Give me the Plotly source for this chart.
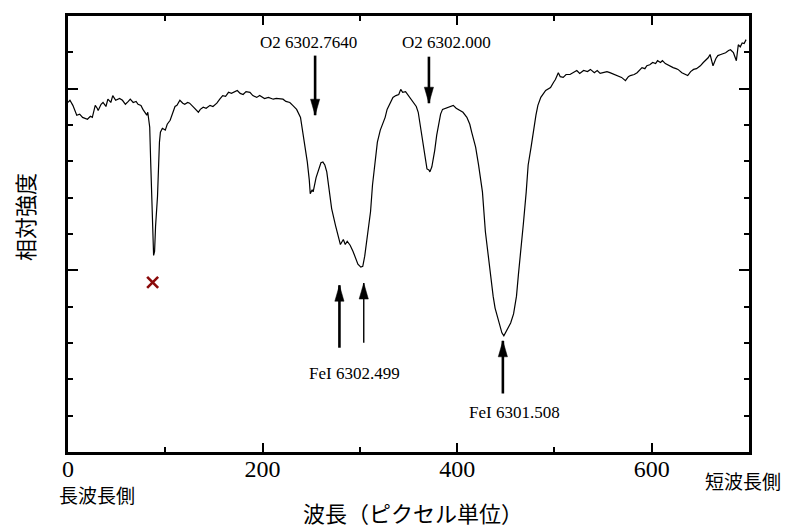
import plotly.graph_objects as go

# ---- spectrum (wavelength in pixel units, relative intensity) ----
pixel = [0, 2, 5, 7, 9, 12, 15, 20, 23, 25, 28, 30, 31, 34, 36, 39, 41, 44, 46, 49,
         51, 53, 56, 59, 62, 64, 67, 70, 72, 75, 77, 80, 81, 82, 84, 85, 86, 87, 88, 89,
         90, 92, 93, 94, 95, 97, 100, 102, 105, 108, 110, 112, 115, 118, 120, 123, 125, 129, 131, 134,
         136, 139, 142, 146, 149, 153, 156, 159, 162, 165, 168, 171, 174, 177, 180, 183, 187, 190, 194, 197,
         202, 206, 211, 214, 218, 221, 224, 228, 231, 235, 239, 242, 244, 246, 248, 249, 251, 252, 255, 257,
         260, 262, 264, 266, 269, 271, 275, 277, 280, 283, 285, 287, 290, 293, 296, 298, 301, 303, 305, 307,
         311, 313, 316, 318, 321, 323, 326, 328, 331, 334, 337, 340, 342, 344, 347, 349, 352, 355, 358, 360,
         362, 365, 367, 369, 371, 372, 374, 375, 377, 379, 383, 385, 388, 390, 393, 396, 399, 403, 406, 410,
         413, 415, 419, 422, 424, 426, 429, 432, 434, 437, 439, 442, 444, 446, 448, 450, 452, 455, 458, 461,
         463, 466, 468, 471, 473, 476, 478, 481, 483, 486, 491, 494, 496, 499, 501, 504, 506, 509, 512, 516,
         519, 523, 526, 530, 534, 537, 541, 544, 547, 550, 554, 557, 561, 565, 569, 573, 576, 578, 582, 585,
         588, 590, 593, 595, 598, 601, 604, 606, 609, 611, 614, 616, 619, 622, 625, 627, 631, 634, 637, 640,
         643, 646, 650, 653, 655, 658, 660, 663, 666, 668, 671, 676, 679, 681, 684, 687, 689, 691, 693, 695,
         697]
intensity = [0.962, 0.968, 0.954, 0.940, 0.927, 0.930, 0.921, 0.916, 0.924, 0.921, 0.954, 0.946, 0.940, 0.957, 0.962, 0.951, 0.971, 0.962, 0.981, 0.968,
             0.971, 0.973, 0.968, 0.957, 0.965, 0.971, 0.962, 0.965, 0.957, 0.954, 0.943, 0.930, 0.927, 0.935, 0.894, 0.798, 0.703, 0.593, 0.541, 0.552,
             0.621, 0.703, 0.785, 0.853, 0.880, 0.891, 0.886, 0.902, 0.913, 0.935, 0.951, 0.954, 0.968, 0.960, 0.957, 0.962, 0.960, 0.949, 0.943, 0.935,
             0.943, 0.949, 0.946, 0.954, 0.951, 0.960, 0.971, 0.981, 0.979, 0.990, 0.987, 0.992, 0.995, 0.987, 0.984, 0.992, 0.990, 0.981, 0.976, 0.981,
             0.973, 0.976, 0.971, 0.973, 0.971, 0.971, 0.965, 0.962, 0.954, 0.943, 0.921, 0.872, 0.839, 0.798, 0.749, 0.711, 0.722, 0.716, 0.755, 0.771,
             0.796, 0.798, 0.790, 0.771, 0.716, 0.670, 0.623, 0.599, 0.571, 0.585, 0.571, 0.580, 0.569, 0.552, 0.530, 0.517, 0.509, 0.511, 0.539, 0.580,
             0.662, 0.735, 0.804, 0.853, 0.886, 0.899, 0.921, 0.943, 0.962, 0.976, 0.981, 0.984, 0.998, 0.990, 0.992, 0.984, 0.973, 0.962, 0.951, 0.935,
             0.902, 0.853, 0.812, 0.779, 0.776, 0.771, 0.785, 0.798, 0.831, 0.872, 0.930, 0.943, 0.946, 0.949, 0.951, 0.954, 0.946, 0.940, 0.935, 0.921,
             0.902, 0.880, 0.839, 0.790, 0.757, 0.716, 0.607, 0.539, 0.489, 0.429, 0.396, 0.366, 0.342, 0.328, 0.320, 0.331, 0.339, 0.355, 0.380, 0.429,
             0.489, 0.566, 0.626, 0.716, 0.790, 0.839, 0.880, 0.927, 0.954, 0.976, 0.995, 1.001, 1.003, 1.017, 1.025, 1.044, 1.033, 1.031, 1.039, 1.039,
             1.044, 1.050, 1.042, 1.050, 1.047, 1.053, 1.044, 1.050, 1.042, 1.044, 1.047, 1.044, 1.039, 1.036, 1.031, 1.022, 1.033, 1.036, 1.039, 1.044,
             1.053, 1.058, 1.055, 1.063, 1.066, 1.072, 1.069, 1.077, 1.072, 1.077, 1.069, 1.066, 1.063, 1.058, 1.055, 1.053, 1.044, 1.039, 1.036, 1.047,
             1.053, 1.055, 1.063, 1.072, 1.077, 1.085, 1.094, 1.063, 1.083, 1.091, 1.094, 1.099, 1.105, 1.107, 1.099, 1.077, 1.121, 1.115, 1.126, 1.124,
             1.135]

# ---- excluded point marker ----
cross_x = [87]
cross_y = [0.467]

# ---- line identifications ----
label_text = ["O2 6302.7640", "O2 6302.000", "FeI 6302.499", "FeI 6301.508"]
label_x = [247, 389, 294, 459]
label_y = [1.126, 1.126, 0.216, 0.109]

arrow_x = [254, 371, 279, 304, 447]
arrow_tip = [0.927, 0.960, 0.459, 0.465, 0.306]
arrow_tail = [1.091, 1.088, 0.287, 0.301, 0.161]
arrow_w = [2.6, 2.6, 2.6, 1.4, 2.6]

fig = go.Figure()
fig.add_trace(go.Scatter(x=pixel, y=intensity, mode="lines",
                         line=dict(color="black", width=1.2), showlegend=False,
                         hoverinfo="skip"))
fig.add_trace(go.Scatter(x=cross_x, y=cross_y, mode="markers",
                         marker=dict(symbol="x-thin", size=11,
                                     line=dict(color="#8b0a0a", width=2.6)),
                         showlegend=False, hoverinfo="skip"))

shapes = []
for ax_, tip, tail, w in zip(arrow_x, arrow_tip, arrow_tail, arrow_w):
    down = tail > tip
    shapes.append(dict(type="line", xref="x", yref="y", x0=ax_, x1=ax_,
                       y0=tail, y1=tip, line=dict(color="black", width=w)))
    hp = "M0,0 L-4.6,16 L4.6,16 Z" if down else "M0,0 L-4.6,-16 L4.6,-16 Z"
    shapes.append(dict(type="path", xref="x", yref="y",
                       xsizemode="pixel", ysizemode="pixel",
                       xanchor=ax_, yanchor=tip, path=hp,
                       fillcolor="black", line=dict(color="black", width=0.5)))

annotations = []
for t, lx, ly in zip(label_text, label_x, label_y):
    annotations.append(dict(text=t, x=lx, y=ly, xref="x", yref="y", showarrow=False,
                            xanchor="center", yanchor="middle",
                            font=dict(family="Liberation Serif", size=17, color="black")))

cjk = "Noto Sans CJK JP"
annotations += [
    dict(text="長波長側", x=0.0426, y=-0.098, xref="paper", yref="paper", showarrow=False,
         xanchor="center", yanchor="middle", font=dict(family=cjk, size=19, color="black")),
    dict(text="短波長側", x=0.991, y=-0.066, xref="paper", yref="paper", showarrow=False,
         xanchor="center", yanchor="middle", font=dict(family=cjk, size=19, color="black")),
    dict(text="波長（ピクセル単位）", x=0.5066, y=-0.1367, xref="paper", yref="paper", showarrow=False,
         xanchor="center", yanchor="middle", font=dict(family=cjk, size=22, color="black")),
    dict(text="相対強度", x=-0.0655, y=0.54, xref="paper", yref="paper", showarrow=False,
         xanchor="center", yanchor="middle",
         textangle=-90, font=dict(family=cjk, size=22, color="black")),
]

axis_common = dict(showline=True, linecolor="black", linewidth=2.5, mirror="ticks",
                   ticks="inside", tickcolor="black", tickwidth=2,
                   showgrid=False, zeroline=False)

fig.update_layout(
    width=789, height=528,
    margin=dict(l=60, r=48, t=5, b=84),
    paper_bgcolor="white", plot_bgcolor="white",
    shapes=shapes, annotations=annotations,
    xaxis=dict(range=[0, 700], tick0=0, dtick=200, ticklen=9, ticklabelstandoff=-7,
               tickfont=dict(family="Liberation Serif, Times New Roman, serif", size=24, color="black"),
               minor=dict(dtick=100, ticks="inside", ticklen=5, tickwidth=2, tickcolor="black"),
               **axis_common),
    yaxis=dict(range=[0, 1.2], tick0=0, dtick=0.5, ticklen=10, showticklabels=False,
               minor=dict(dtick=0.1, ticks="inside", ticklen=5, tickwidth=2, tickcolor="black"),
               **axis_common),
)

fig.write_html("out.html")
